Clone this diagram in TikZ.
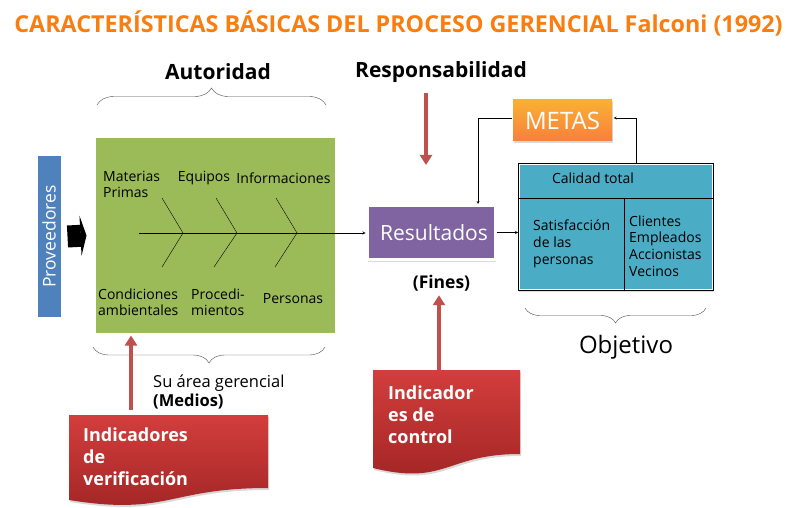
\documentclass[tikz,border=0pt]{standalone}
\usepackage{fontspec}
\setmainfont{Open Sans}
\usetikzlibrary{positioning, decorations.pathreplacing, shadows, calc, arrows.meta}
\usepackage{xcolor}
\definecolor{naranjatit}{RGB}{250,125,15}
\definecolor{verde}{RGB}{155,187,89}
\definecolor{azul}{RGB}{79,129,189}
\definecolor{morado}{RGB}{128,100,162}
\definecolor{celeste}{RGB}{75,172,198}
\definecolor{naranja}{RGB}{247,150,70}
\definecolor{rojo}{RGB}{192,80,77}
\definecolor{rojoclaro}{RGB}{210,62,60}
\definecolor{rojooscuro}{RGB}{160,36,36}

\begin{document}
\begin{tikzpicture}[x=1pt, y=-1pt,
    caja/.style={draw=white, line width=3pt, inner sep=0pt,
        drop shadow={opacity=0.3, shadow xshift=1pt, shadow yshift=-2pt}},
    llave/.style={decorate, decoration={brace, amplitude=#1}, draw=black!70, thin},
    espina/.style={font=\fontsize{14}{16}\selectfont, align=left, inner sep=0pt},
    negrita/.style={font=\fontsize{21}{25}\selectfont\bfseries, inner sep=0pt},
    flecharoja/.style={draw=rojo, line width=3.5pt, -{Triangle[length=10pt,width=12pt]}},
    doctexto/.style={font=\fontsize{18}{22}\selectfont\bfseries, text=white, align=left, inner sep=0pt},
    tabtexto/.style={font=\fontsize{14}{16.8}\selectfont, align=left, inner sep=0pt},
    >=stealth]
    \useasboundingbox (0,0) rectangle (793,508);

    % titulo
    \node[font=\fontsize{23.3}{28}\selectfont\bfseries, text=naranjatit] (tit) at (398.5,23)
        {CARACTERÍSTICAS BÁSICAS DEL PROCESO GERENCIAL Falconi (1992)};

    \node[negrita] (aut) at (218,72) {Autoridad};
    \node[negrita] (resp) at (441,72) {Responsabilidad};
    \draw[llave=17pt] (97,105) -- (326,105);

    % cajas
    \node[caja, fill=verde, minimum width=242pt, minimum height=197pt] (verde) at (215,235.5) {};
    \node[caja, fill=azul, minimum width=26pt, minimum height=163pt] (prov) at (49,236.5)
        {\rotatebox{90}{\fontsize{17.5}{20}\selectfont\color{white}Proveedores}};
    \draw[line width=22pt, -{Triangle[length=6pt,width=40pt]}] ([xshift=4pt]prov.east) -- ([xshift=-6pt]verde.west);

    % espina de pescado
    \coordinate (cola) at (139,233);
    \foreach \x/\y in {183/0, 237/2, 297/1}
        \draw (\x-21,198) -- (\x,233) -- (\x-21-\y,267);
    \node[espina, anchor=west] (mat) at (103,184) {Materias\\Primas};
    \node[espina] (equ) at (204,178) {Equipos};
    \node[espina] (inf) at (283.5,178) {Informaciones};
    \node[espina, anchor=west] (con) at (98,302.5) {Condiciones\\ambientales};
    \node[espina, anchor=west] (pro) at (191,302.5) {Procedi-\\mientos};
    \node[espina] (per) at (293,299) {Personas};

    \node[caja, fill=morado, minimum width=128pt, minimum height=54pt,
        font=\fontsize{21}{24}\selectfont, text=white] (res) at (431,232.5) {\hspace*{6pt}Resultados};
    \draw[->] (cola) -- (cola -| res.west);

    \draw[llave=16pt] (325,347) -- (93,347);
    \node[font=\fontsize{16.5}{20}\selectfont, inner sep=0pt, anchor=west] (area) at (153,383) {Su área gerencial};
    \node[font=\fontsize{16.5}{20}\selectfont\bfseries, inner sep=0pt, anchor=west] (med) at (153,402) {(Medios)};
    \node[font=\fontsize{17.5}{20}\selectfont\bfseries, inner sep=0pt] (fin) at (441.5,283) {(Fines)};

    % metas y tabla
    \node[caja, draw=none, top color=naranja!75!yellow, bottom color=naranja!85!red, minimum width=99pt, minimum height=41pt,
        font=\fontsize{24}{28}\selectfont, text=white] (metas) at (562.5,120.5) {METAS};
    \node[draw=black, line width=0.8pt, fill=celeste, minimum width=195pt, minimum height=127pt,
        anchor=north west, drop shadow={opacity=0.3, shadow xshift=1pt, shadow yshift=-2pt}] (tabla) at (518,163) {};
    \draw[white, line width=0.8pt] ([shift={(1.6pt,-1.6pt)}]tabla.north west) rectangle ([shift={(-1.6pt,1.6pt)}]tabla.south east);
    \draw[line width=0.8pt] ([yshift=-35pt]tabla.north west) -- ([yshift=-35pt]tabla.north east);
    \draw[line width=0.8pt] ([xshift=106pt, yshift=-35pt]tabla.north west) -- ([xshift=106pt]tabla.south west);
    \node[tabtexto] (cal) at (593,178) {Calidad total};
    \node[tabtexto, anchor=west] (sat) at (533,244) {Satisfacción\\de las\\personas};
    \node[tabtexto, anchor=west] (cli) at (629,246) {Clientes\\Empleados\\Accionistas\\Vecinos};

    \draw[->] (res.east) -- (res.east -| tabla.west);
    \draw[->] ([yshift=2.5pt]metas.west) -| ([xshift=47pt]res.north);
    \draw[->] ([xshift=20.5pt]tabla.north) |- ([yshift=2.5pt]metas.east);

    \draw[llave=15pt] (706,308) -- (525,308);
    \node[font=\fontsize{24}{28}\selectfont, inner sep=0pt] (obj) at (626,347) {Objetivo};

    % documentos rojos
    \shade[top color=rojoclaro, bottom color=rojooscuro, drop shadow={opacity=0.3, shadow xshift=1pt, shadow yshift=-2pt}]
        (69,415) -- (268,415) -- (268,488) .. controls (168,488) and (168,516) .. (69,500) -- cycle;
    \node[doctexto, anchor=north west] (ver) at (83,428) {Indicadores\\de\\verificación};
    \shade[top color=rojoclaro, bottom color=rojooscuro, drop shadow={opacity=0.3, shadow xshift=1pt, shadow yshift=-2pt}]
        (373,370) -- (520,370) -- (520,454) .. controls (446,454) and (446,486) .. (373,468) -- cycle;
    \node[doctexto, anchor=north west] (ctl) at (388,386) {Indicador\\es de\\control};

    % flechas rojas
    \coordinate (r1) at (426,93);
    \coordinate (r2) at (426,165);
    \draw[flecharoja] (r1) -- (r2);
    \coordinate (v1) at (131,410);
    \draw[flecharoja] (v1) -- (v1 |- verde.south);
    \coordinate (c1) at (439,370);
    \draw[flecharoja, shorten >=4pt] (c1) -- (c1 |- fin.south);
\end{tikzpicture}
\end{document}
